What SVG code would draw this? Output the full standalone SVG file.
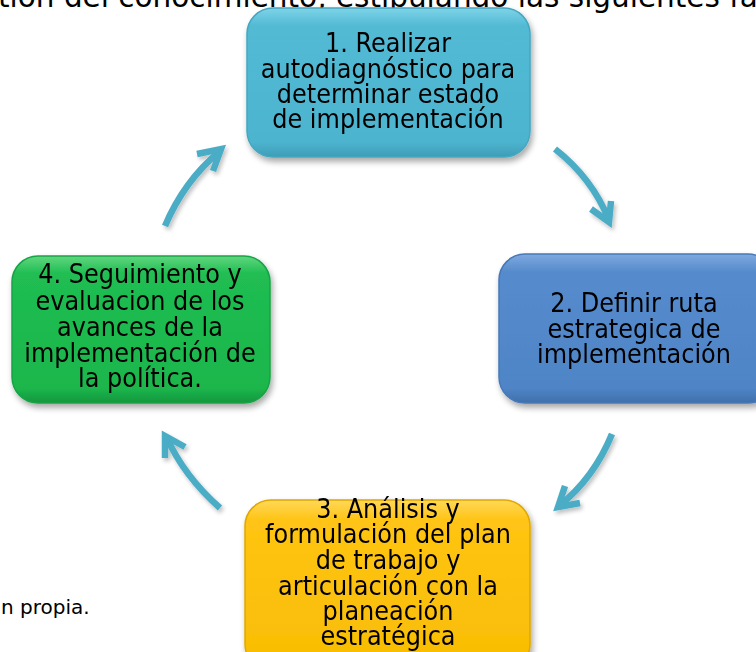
<svg xmlns="http://www.w3.org/2000/svg" width="756" height="652" viewBox="0 0 756 652">
<defs>
<style>
.t{font-family:"DejaVu Sans","Verdana",sans-serif;font-size:24px;fill:#000;text-anchor:middle}
.top{font-family:"DejaVu Sans",sans-serif;font-size:29.5px;fill:#000}
.cap{font-family:"DejaVu Sans",sans-serif;font-size:20px;fill:#000}
.arr{fill:none;stroke:#4BACC6;stroke-width:6.5;stroke-linecap:butt;stroke-linejoin:miter}
.box{stroke-width:1.5}
</style>
<linearGradient id="g1" x1="0" y1="0" x2="0" y2="1"><stop offset="0" stop-color="#7ED3E8"/><stop offset="0.12" stop-color="#52BAD4"/><stop offset="0.9" stop-color="#4DB4CF"/><stop offset="1" stop-color="#3E9DB6"/></linearGradient>
<linearGradient id="g2" x1="0" y1="0" x2="0" y2="1"><stop offset="0" stop-color="#7FA9DE"/><stop offset="0.12" stop-color="#558BCD"/><stop offset="0.9" stop-color="#4F85C7"/><stop offset="1" stop-color="#3F6FAA"/></linearGradient>
<linearGradient id="g3" x1="0" y1="0" x2="0" y2="1"><stop offset="0" stop-color="#FFD857"/><stop offset="0.12" stop-color="#FFC413"/><stop offset="0.9" stop-color="#F9BE05"/><stop offset="1" stop-color="#D9A300"/></linearGradient>
<linearGradient id="g4" x1="0" y1="0" x2="0" y2="1"><stop offset="0" stop-color="#5FD77F"/><stop offset="0.12" stop-color="#20BD52"/><stop offset="0.9" stop-color="#1BB64C"/><stop offset="1" stop-color="#16963E"/></linearGradient>
<filter id="sh" x="-10%" y="-10%" width="125%" height="130%"><feGaussianBlur in="SourceAlpha" stdDeviation="3"/><feOffset dx="2" dy="4" result="b"/><feComponentTransfer><feFuncA type="linear" slope="0.35"/></feComponentTransfer><feMerge><feMergeNode/><feMergeNode in="SourceGraphic"/></feMerge></filter>
<filter id="ash" x="-30%" y="-30%" width="160%" height="160%"><feGaussianBlur in="SourceAlpha" stdDeviation="2"/><feOffset dx="2" dy="3"/><feComponentTransfer><feFuncA type="linear" slope="0.25"/></feComponentTransfer><feMerge><feMergeNode/><feMergeNode in="SourceGraphic"/></feMerge></filter>
</defs>
<rect width="756" height="652" fill="#fff"/>
<text class="top" x="-2" y="7">tión del conocimiento, estipulando las siguientes fa</text>
<text class="cap" x="1" y="614">n propia.</text>

<g id="node1" filter="url(#sh)">
<rect class="box" x="247" y="8" width="283" height="149" rx="26" fill="url(#g1)" stroke="#45A7C0"/>
<g transform="scale(1,1.08)">
<text class="t" x="388" y="48.15">1. Realizar</text>
<text class="t" x="388" y="72.22">autodiagnóstico para</text>
<text class="t" x="388" y="95.37">determinar estado</text>
<text class="t" x="388" y="118.52">de implementación</text>
</g>
</g>
<g id="node2" filter="url(#sh)">
<rect class="box" x="499" y="254" width="275" height="149" rx="26" fill="url(#g2)" stroke="#4679B8"/>
<g transform="scale(1,1.08)">
<text class="t" x="634" y="288.89">2. Definir ruta</text>
<text class="t" x="634" y="312.96">estrategica de</text>
<text class="t" x="634" y="336.11">implementación</text>
</g>
</g>
<g id="node3" filter="url(#sh)">
<rect class="box" x="245" y="500" width="285" height="170" rx="26" fill="url(#g3)" stroke="#E0A800"/>
<g transform="scale(1,1.08)">
<text class="t" x="388" y="479.63">3. Análisis y</text>
<text class="t" x="388" y="502.78">formulación del plan</text>
<text class="t" x="388" y="526.85">de trabajo y</text>
<text class="t" x="388" y="550.93">articulación con la</text>
<text class="t" x="388" y="574.07">planeación</text>
<text class="t" x="388" y="597.22">estratégica</text>
</g>
</g>
<g id="node4" filter="url(#sh)">
<rect class="box" x="12" y="256" width="258" height="147" rx="26" fill="url(#g4)" stroke="#18A446"/>
<g transform="scale(1,1.08)">
<text class="t" x="140" y="262.04">4. Seguimiento y</text>
<text class="t" x="140" y="287.04">evaluacion de los</text>
<text class="t" x="140" y="311.11">avances de la</text>
<text class="t" x="140" y="335.19">implementación de</text>
<text class="t" x="140" y="358.33">la política.</text>
</g>
</g>

<g id="connectors" filter="url(#ash)">
<path class="arr" d="M555,149 Q592,178 609,220"/>
<path class="arr" d="M591,209 L609,222 L611,201"/>
<path class="arr" d="M612,434 Q594,478 559,506"/>
<path class="arr" d="M565,486 L558,507 L580,503"/>
<path class="arr" d="M220,508 Q184,476 167,438"/>
<path class="arr" d="M165,458 L165,436 L185,447"/>
<path class="arr" d="M165,226 Q184,181 220,151"/>
<path class="arr" d="M197,154 L221,149 L213,171"/>
</g>
</svg>
